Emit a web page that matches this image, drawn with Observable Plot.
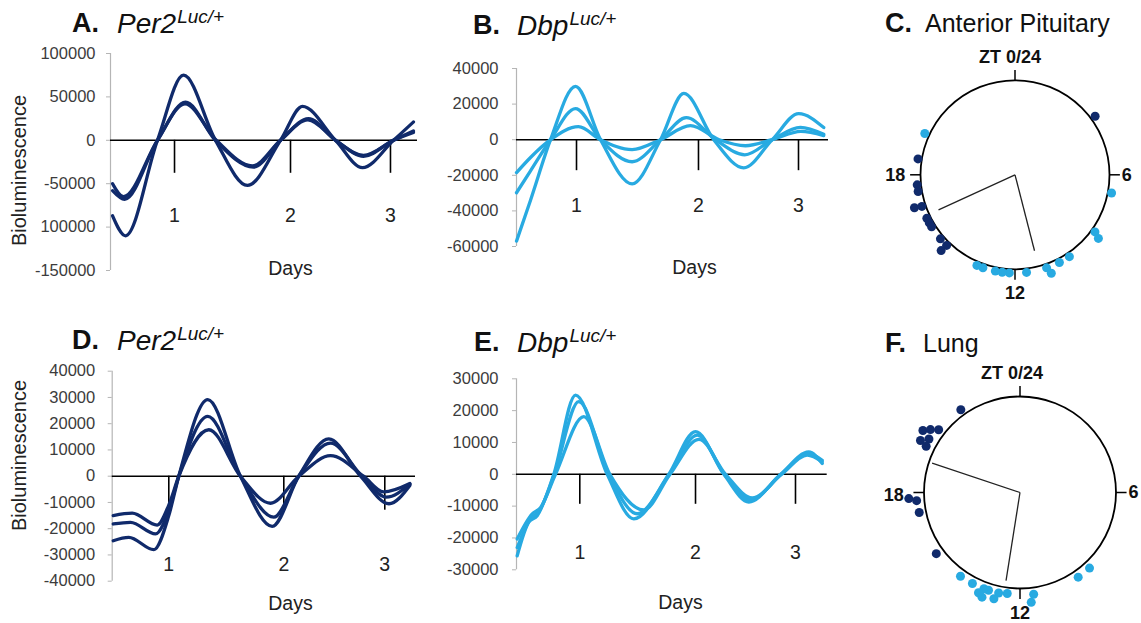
<!DOCTYPE html>
<html><head><meta charset="utf-8">
<script src="https://cdn.jsdelivr.net/npm/d3@7"></script>
<script src="https://cdn.jsdelivr.net/npm/@observablehq/plot@0.6"></script>
<style>
html,body{margin:0;padding:0;background:#fff;}
#root{position:relative;width:1141px;height:623px;overflow:hidden;font-family:"Liberation Sans",Arial,Helvetica,sans-serif;color:#111;}
.box{position:absolute;}
.box svg{overflow:visible;}
.t{position:absolute;white-space:nowrap;font-size:25px;line-height:25px;color:#111;}
.b{font-weight:bold;font-size:27px;}
.g{font-style:italic;font-size:28px;}
.g span{font-size:19px;position:relative;top:-10px;margin-left:1px;}
</style></head><body><div id="root"></div>
<script>
const NAVY = "#102a6b", SKY = "#28aae1";
const dayLabels = ["1", "2", "3"];

// ---- Panel A: Per2 (anterior pituitary) ----
const yTicksA = [-150000, -100000, -50000, 0, 50000, 100000];
const yLabelsA = ["-150000", "100000", "-50000", "0", "50000", "100000"];
const dayTicksA = [1, 2, 2.862];
const A1 = [[0.466,-87000],[0.578,-110000],[0.853,0],[1.078,75000],[1.353,0],[1.629,-52000],[1.914,0],[2.103,39000],[2.388,0],[2.621,-31500],[2.888,0],[3.060,21100]];
const A2 = [[0.466,-50000],[0.560,-65000],[0.853,0],[1.095,44000],[1.353,0],[1.681,-31000],[1.914,0],[2.155,25000],[2.388,0],[2.629,-17300],[2.888,0],[3.060,10700]];
const A3 = [[0.466,-58000],[0.570,-68000],[0.853,0],[1.090,42000],[1.360,0],[1.670,-29500],[1.914,0],[2.150,23500],[2.390,0],[2.630,-18500],[2.888,0],[3.060,9000]];

// ---- Panel B: Dbp (anterior pituitary) ----
const yTicksB = [-60000, -40000, -20000, 0, 20000, 40000];
const yLabelsB = ["-60000", "-40000", "-20000", "0", "20000", "40000"];
const dayTicksB = [1, 2, 2.820];
const B1 = [[0.508,-57000],[0.623,-34000],[0.787,0],[0.992,30000],[1.197,0],[1.456,-24800],[1.689,0],[1.880,26000],[2.125,0],[2.371,-15800],[2.604,0],[2.822,14600],[3.027,6800]];
const B2 = [[0.508,-29800],[0.623,-17500],[0.787,0],[0.992,17500],[1.197,0],[1.456,-12400],[1.689,0],[1.900,12400],[2.140,0],[2.380,-8500],[2.604,0],[2.836,6900],[3.027,3000]];
const B3 = [[0.508,-18500],[0.623,-10000],[0.787,0],[1.016,7300],[1.197,0],[1.456,-5600],[1.689,0],[1.934,7900],[2.170,0],[2.385,-3400],[2.604,0],[2.840,4700],[3.027,2300]];

// ---- Panel D: Per2 (lung) ----
const yTicksD = [-40000, -30000, -20000, -10000, 0, 10000, 20000, 30000, 40000];
const yLabelsD = ["-40000", "-30000", "-20000", "-10000", "0", "10000", "20000", "30000", "40000"];
const dayTicksD = [1, 2, 2.878];
const D1 = [[0.517,-24600],[0.652,-23300],[0.870,-28000],[1.000,-15000],[1.087,0],[1.339,29200],[1.623,0],[1.899,-19100],[2.130,0],[2.391,14200],[2.667,0],[2.914,-10500],[3.096,-3500]];
const D2 = [[0.517,-18200],[0.667,-17600],[0.885,-22000],[1.000,-13000],[1.087,0],[1.339,22800],[1.623,0],[1.913,-15600],[2.130,0],[2.406,12600],[2.680,0],[2.890,-8000],[3.096,-3000]];
const D3 = [[0.517,-15000],[0.682,-14100],[0.899,-18600],[1.000,-11000],[1.087,0],[1.348,17700],[1.623,0],[1.884,-10300],[2.130,0],[2.406,7800],[2.693,0],[2.867,-6000],[3.096,-2800]];

// ---- Panel E: Dbp (lung) ----
const yTicksE = [-30000, -20000, -10000, 0, 10000, 20000, 30000];
const yLabelsE = ["-30000", "-20000", "-10000", "0", "10000", "20000", "30000"];
const dayTicksE = [1, 2, 2.864];
const E1 = [[0.459,-25600],[0.559,-15000],[0.632,-13000],[0.775,0],[0.963,24900],[1.237,0],[1.467,-14000],[1.769,0],[2.000,13400],[2.245,0],[2.461,-8700],[2.735,0],[2.979,7000],[3.095,3400]];
const E2 = [[0.459,-23000],[0.574,-14000],[0.650,-11500],[0.780,0],[0.991,22800],[1.250,0],[1.496,-12400],[1.775,0],[2.015,12300],[2.250,0],[2.475,-8000],[2.740,0],[2.979,6500],[3.095,4400]];
const E3 = [[0.459,-20300],[0.589,-12400],[0.660,-10500],[0.790,0],[1.035,18100],[1.260,0],[1.553,-11200],[1.780,0],[2.029,11000],[2.260,0],[2.490,-7400],[2.745,0],[2.965,6000],[3.095,3900]];

// ---- Phase plots: [ZT hour, radial stack position] ----
const ztHours = [0, 6, 12, 18];
const C_per2 = [[3.59,1.05],[18.62,1.04],[17.61,1.04],[17.35,1.04],[16.79,1.12],[16.75,1.04],[16.25,1.04],[16.05,1.04],[15.87,1.04],[15.29,1.04],[14.94,1.04],[14.95,1.12]];
const C_dbp = [[19.64,1.05],[6.71,1.04],[8.37,1.04],[8.49,1.11],[9.76,1.04],[10.21,1.04],[10.75,1.04],[10.65,1.11],[11.55,1.04],[12.22,1.04],[12.50,1.04],[12.77,1.04],[13.27,1.04],[13.52,1.04]];
const C_mean = [[16.36,0.89],[11.04,0.83]];
const F_per2 = [[21.63,1.06],[20.17,1.20],[20.34,1.14],[20.51,1.07],[19.84,1.17],[20.03,1.10],[19.75,1.09],[17.79,1.16],[17.70,1.08],[17.25,1.07],[15.59,1.08]];
const F_dbp = [[9.16,1.07],[9.70,1.07],[11.49,1.07],[11.61,1.15],[12.48,1.06],[12.80,1.07],[12.92,1.14],[13.19,1.07],[13.37,1.07],[13.33,1.16],[13.50,1.13],[13.84,1.07],[14.36,1.07]];
const F_mean = [[19.23,0.965],[12.60,0.93]];

const root = document.getElementById("root");
const FONT = '"Liberation Sans", Arial, Helvetica, sans-serif';

function mount(node, left, top) {
  const d = document.createElement("div");
  d.className = "box"; d.style.left = left + "px"; d.style.top = top + "px";
  d.appendChild(node); root.appendChild(d);
}
function title(left, top, letter, gene, sup, plain) {
  const a = document.createElement("div");
  a.className = "t b"; a.style.left = left[0] + "px"; a.style.top = top + "px"; a.textContent = letter;
  root.appendChild(a);
  const g = document.createElement("div");
  g.className = "t"; g.style.left = left[1] + "px"; g.style.top = top + "px";
  if (plain) { g.textContent = plain; }
  else { g.innerHTML = `<span class="g">${gene}<span>${sup}</span></span>`; }
  root.appendChild(g);
}

function linePanel(o) {
  const rows = o.series.flatMap((pts, k) => pts.map(([d, v]) => ({day: d, value: v, s: k})));
  const labelOf = new Map(o.yTicks.map((t, i) => [t, o.yLabels[i]]));
  const marks = [
    Plot.ruleX([o.xDomain[0]], {stroke: "#b5b5b5", strokeWidth: 1.2}),
    Plot.axisY({ticks: o.yTicks, tickSize: 4, tickPadding: o.tickPad, tickFormat: d => labelOf.get(d), label: null,
      fontSize: 16.5, stroke: "#b5b5b5", fill: "#3c3c3c"}),
    Plot.ruleY([0], {stroke: "#000", strokeWidth: 1.5}),
    Plot.ruleX(o.dayTicks, {x: d => d, y1: 0, y2: 0, insetBottom: -o.tickLen, stroke: "#000", strokeWidth: 1.6}),
    Plot.line(rows, {x: "day", y: "value", z: "s", stroke: o.color, strokeWidth: 3.3, curve: "monotone-x"}),
    Plot.text(o.dayTicks, {x: d => d, y: 0, dy: o.dayLabelDy, text: (d, i) => dayLabels[i], fontSize: 19.5, fill: "#222"}),
    Plot.text(["Days"], {frameAnchor: "top-left", textAnchor: "middle", lineAnchor: "middle",
      dx: o.daysXY[0] - o.mL, dy: o.daysXY[1] - o.mT, fontSize: 19.5, fill: "#222"})
  ];
  if (o.bioXY) marks.push(Plot.text(["Bioluminescence"], {frameAnchor: "top-left", textAnchor: "middle", lineAnchor: "middle",
    dx: o.bioXY[0] - o.mL, dy: o.bioXY[1] - o.mT, rotate: -90, fontSize: 20, fill: "#222"}));
  const p = Plot.plot({
    width: o.width, height: o.height,
    marginLeft: o.mL, marginRight: o.mR, marginTop: o.mT, marginBottom: o.mB,
    x: {domain: o.xDomain, axis: null},
    y: {domain: o.yDomain, axis: null},
    style: {fontFamily: FONT, background: "transparent", overflow: "visible"},
    marks
  });
  mount(p, o.left, o.top);
}

function polarPanel(o) {
  const X = (h, r) => r * Math.sin(h / 24 * 2 * Math.PI);
  const Y = (h, r) => r * Math.cos(h / 24 * 2 * Math.PI);
  const R = o.R;
  const lbl = (hours, texts, r, anchor, extra = {}) => Plot.text(hours, {
    x: h => X(h, r), y: h => Y(h, r), text: (h, i) => texts[i], textAnchor: anchor,
    fontSize: 18, fontWeight: "bold", fill: "#111", ...extra});
  const p = Plot.plot({
    width: o.width, height: o.height, margin: 0,
    x: {domain: [-o.cx / R, (o.width - o.cx) / R], axis: null},
    y: {domain: [-(o.height - o.cy) / R, o.cy / R], axis: null},
    style: {fontFamily: FONT, background: "transparent", overflow: "visible"},
    marks: [
      Plot.dot([0], {x: 0, y: 0, r: R, stroke: "#000", strokeWidth: 1.8, fill: "none"}),
      Plot.link(ztHours, {x1: h => X(h, 1), y1: h => Y(h, 1), x2: h => X(h, 1.11), y2: h => Y(h, 1.11), stroke: "#000", strokeWidth: 1.5}),
      Plot.link(o.means, {x1: 0, y1: 0, x2: d => X(d[0], d[1]), y2: d => Y(d[0], d[1]), stroke: "#222", strokeWidth: 1.3}),
      Plot.dot(o.dark, {x: d => X(d[0], d[1]), y: d => Y(d[0], d[1]), r: 4.5, fill: NAVY}),
      Plot.dot(o.light, {x: d => X(d[0], d[1]), y: d => Y(d[0], d[1]), r: 4.5, fill: SKY}),
      lbl([0], ["ZT 0/24"], 1.245, "middle", {dx: o.topDx}),
      lbl([12], ["12"], 1.255, "middle"),
      lbl([6], ["6"], 1.13, "start"),
      lbl([18], ["18"], o.leftR, "end", {dy: o.leftDy})
    ]
  });
  mount(p, o.left, o.top);
}

// Top row
linePanel({left: 0, top: 40, width: 430, height: 250, mL: 110, mR: 13, mT: 13, mB: 20,
  xDomain: [0.448, 3.095], yDomain: [-150000, 100000], yTicks: yTicksA, yLabels: yLabelsA,
  dayTicks: dayTicksA, series: [A1, A2, A3], color: NAVY, tickLen: 33, dayLabelDy: 75, tickPad: 11,
  daysXY: [290, 228], bioXY: [19, 130]});
linePanel({left: 430, top: 40, width: 410, height: 250, mL: 86, mR: 12, mT: 28, mB: 44,
  xDomain: [0.508, 3.066], yDomain: [-60000, 40000], yTicks: yTicksB, yLabels: yLabelsB,
  dayTicks: dayTicksB, series: [B1, B2, B3], color: SKY, tickLen: 31, dayLabelDy: 66, tickPad: 14,
  daysXY: [264, 227]});
polarPanel({left: 860, top: 40, width: 281, height: 270, cx: 154.5, cy: 134.3, R: 94.5,
  dark: C_per2, light: C_dbp, means: C_mean, leftR: 1.16, leftDy: 0, topDx: -5});

// Bottom row
linePanel({left: 0, top: 340, width: 430, height: 283, mL: 111.7, mR: 15, mT: 30.7, mB: 42.3,
  xDomain: [0.508, 3.145], yDomain: [-40000, 40000], yTicks: yTicksD, yLabels: yLabelsD,
  dayTicks: dayTicksD, series: [D1, D2, D3], color: NAVY, tickLen: 34, dayLabelDy: 89, tickPad: 13,
  daysXY: [290, 263], bioXY: [19, 115]});
linePanel({left: 430, top: 340, width: 410, height: 283, mL: 86, mR: 13.3, mT: 38.3, mB: 53.7,
  xDomain: [0.453, 3.138], yDomain: [-30000, 30000], yTicks: yTicksE, yLabels: yLabelsE,
  dayTicks: dayTicksE, series: [E1, E2, E3], color: SKY, tickLen: 30, dayLabelDy: 78, tickPad: 14,
  daysXY: [250, 262]});
polarPanel({left: 860, top: 340, width: 281, height: 283, cx: 159.5, cy: 152, R: 96,
  dark: F_per2, light: F_dbp, means: F_mean, leftR: 1.21, leftDy: 3, topDx: -8});

// Titles
title([72, 117], 11, "A.", "Per2", "Luc/+");
title([473, 517], 13, "B.", "Dbp", "Luc/+");
title([885, 925], 11, "C.", null, null, "Anterior Pituitary");
title([72, 117], 328, "D.", "Per2", "Luc/+");
title([474, 517], 330, "E.", "Dbp", "Luc/+");
title([885, 923], 331, "F.", null, null, "Lung");
</script></body></html>
